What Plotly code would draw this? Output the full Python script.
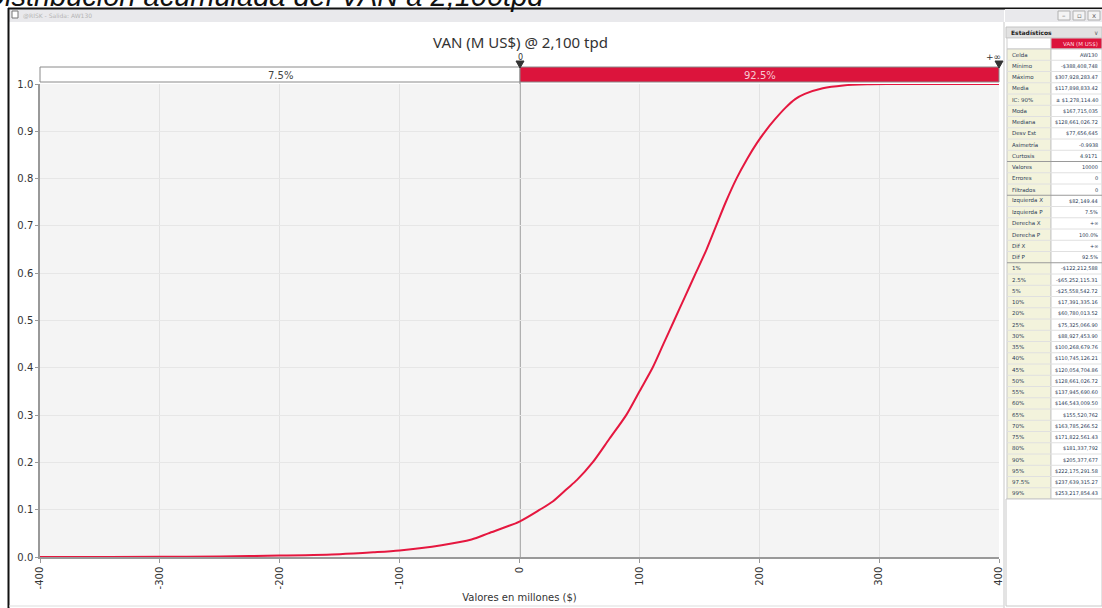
import plotly.graph_objects as go

# ---------------- data ----------------
van_x = [-400, -388, -300, -250, -200, -150, -122, -100, -65, -40, -26, 0, 17, 28,
         40, 48, 61, 75, 89, 100, 111, 120, 129, 138, 147, 156, 164, 172, 181, 190,
         198, 205, 213, 222, 230, 238, 253, 270, 290, 308, 400]
cdf = [0.0, 0.0, 0.0005, 0.001, 0.003, 0.006, 0.010, 0.014, 0.025, 0.037, 0.050, 0.075,
       0.100, 0.118, 0.145, 0.163, 0.200, 0.250, 0.300, 0.350, 0.400, 0.450, 0.500,
       0.550, 0.600, 0.650, 0.700, 0.750, 0.800, 0.842, 0.875, 0.900, 0.925, 0.950,
       0.968, 0.979, 0.991, 0.997, 0.9995, 1.0, 1.0]

x_ticks = [-400, -300, -200, -100, 0, 100, 200, 300, 400]
y_ticks = [0.0, 0.1, 0.2, 0.3, 0.4, 0.5, 0.6, 0.7, 0.8, 0.9, 1.0]

left_label = "7.5%"
right_label = "92.5%"
left_mark = "0"
right_mark = "+\u221e"

stat_labels = ["Celda", "Mínimo", "Máximo", "Media", "IC: 90%", "Moda", "Mediana",
               "Desv Est", "Asimetría", "Curtosis", "Valores", "Errores", "Filtrados",
               "Izquierda X", "Izquierda P", "Derecha X", "Derecha P", "Dif X", "Dif P",
               "1%", "2.5%", "5%", "10%", "20%", "25%", "30%", "35%", "40%", "45%",
               "50%", "55%", "60%", "65%", "70%", "75%", "80%", "90%", "95%", "97.5%", "99%"]
stat_values = ["AW130", "-$388,408,748", "$307,928,283.47", "$117,898,833.42",
               "± $1,278,114.40", "$167,715,035", "$128,661,026.72", "$77,656,645",
               "-0.9938", "4.9171", "10000", "0", "0", "$82,149.44", "7.5%", "+∞",
               "100.0%", "+∞", "92.5%", "-$122,212,588", "-$65,252,115.31",
               "-$25,558,542.72", "$17,391,335.16", "$60,780,013.52", "$75,325,066.90",
               "$88,927,453.90", "$100,268,679.76", "$110,745,126.21", "$120,054,704.86",
               "$128,661,026.72", "$137,945,690.60", "$146,543,009.50", "$155,520,762",
               "$163,785,266.52", "$171,822,561.43", "$181,337,792", "$205,377,677",
               "$222,175,291.58", "$237,639,315.27", "$253,217,854.43"]

# ---------------- layout helpers (page pixel -> paper) ----------------
W, H = 1102, 608
L, R, T, B = 40, 999, 84, 557  # plot area in page pixels


def px(x):
    return (x - L) / (R - L)


def py(y):
    return (B - y) / (B - T)


RED = "#DC143C"
shapes = []
ann = []


def rect(x0, y0, x1, y1, fill, line="rgba(0,0,0,0)", lw=0, layer="above"):
    shapes.append(dict(type="rect", xref="paper", yref="paper", x0=px(x0), x1=px(x1),
                       y0=py(y1), y1=py(y0), fillcolor=fill,
                       line=dict(color=line, width=lw), layer=layer))


def hline(x0, x1, y, color, w=1):
    shapes.append(dict(type="line", xref="paper", yref="paper", x0=px(x0), x1=px(x1),
                       y0=py(y), y1=py(y), line=dict(color=color, width=w), layer="above"))


def vline(x, y0, y1, color, w=1, layer="above"):
    shapes.append(dict(type="line", xref="paper", yref="paper", x0=px(x), x1=px(x),
                       y0=py(y0), y1=py(y1), line=dict(color=color, width=w), layer=layer))


def text(x, y, s, size=10, color="#333", xanchor="center", yanchor="middle",
         family="DejaVu Sans", **kw):
    ann.append(dict(xref="paper", yref="paper", x=px(x), y=py(y), text=s,
                    showarrow=False, xanchor=xanchor, yanchor=yanchor,
                    font=dict(size=size, color=color, family=family), **kw))


# ---------------- figure ----------------
fig = go.Figure()
fig.add_trace(go.Scatter(x=van_x, y=cdf, mode="lines",
                         line=dict(color="#E5173F", width=2, shape="spline", smoothing=0.8),
                         cliponaxis=False, hoverinfo="x+y", showlegend=False))

# partially cut document caption at top
text(546, 14, "<i>Distribución acumulada del VAN a 2,100tpd</i>", size=29,
     color="#111", xanchor="right", yanchor="bottom", family="Liberation Sans")

# window frame
rect(9, 9, 1004, 22, "#e9e9ec")
hline(8, 1102, 8.5, "#111", 2)
vline(8.5, 8, 608, "#111", 2)
rect(12, 11, 18, 18, "#ffffff", "#777", 1)
text(21, 15.5, "@RISK - Salida: AW130", size=6, color="#b5b5b5", xanchor="left")
vline(1004, 22, 608, "#c8c8c8", 1)
hline(9, 1004, 606, "#dddddd", 1)

# chart title
text(520, 42, "VAN (M US$) @ 2,100 tpd", size=15, color="#333", family="Noto Sans")

# probability band
rect(40, 67, 520, 82, "#ffffff", "#8a8a8a", 1)
rect(520, 67, 999, 82, RED, "#8a8a8a", 1)
text(280, 75, left_label, size=10, color="#444")
text(760, 75, right_label, size=10, color="#f6c9d3")
text(520, 57, left_mark, size=8, color="#333")
text(993, 57, right_mark, size=9, color="#333")
for mx in (520, 999):
    shapes.append(dict(type="path", xref="paper", yref="paper",
                       path=f"M {px(mx-4)} {py(61)} L {px(mx+4)} {py(61)} L {px(mx)} {py(68)} Z",
                       fillcolor="#333", line=dict(color="#333", width=1), layer="above"))

# zero marker line in the plot
vline(520, 557, 67, "#9a9a9a", 1.5, layer="below")

# ---------------- statistics panel ----------------
rect(1005, 9, 1102, 22, "#e9e9ec")
for i, s in enumerate(["\u2013", "\u25ab", "x"]):
    bx = 1058 + i * 15
    rect(bx, 11, bx + 12, 20, "#f4f4f4", "#b0b0b0", 1)
    text(bx + 6, 15.5, s, size=7, color="#666")
rect(1006, 27, 1102, 38, "#e2e2e2", "#c4c4c4", 1)
text(1009, 32.5, "<b>Estadísticos</b>", size=6, color="#222", xanchor="left")
text(1096, 32.5, "\u2228", size=6, color="#666")
rect(1007, 38, 1051, 49, "#ffffff", "#cfcfcf", 1)
rect(1051, 38, 1102, 49, RED, "#cfcfcf", 1)
text(1100, 43.5, "VAN (M US$)", size=5.5, color="#ffd6df", xanchor="right")

row_h = 11.25
y0 = 49
n = len(stat_labels)
rect(1007, y0, 1051, y0 + n * row_h, "#f3f3dc", "#c8c8c8", 1)
rect(1051, y0, 1102, y0 + n * row_h, "#ffffff", "#c8c8c8", 1)
rect(1006, y0 + n * row_h, 1102, 606, "#ffffff", "#c8c8c8", 1)
for i, (lab, val) in enumerate(zip(stat_labels, stat_values)):
    yc = y0 + (i + 0.5) * row_h
    if i > 0:
        sep = i in (10, 13, 19)
        hline(1007, 1102, y0 + i * row_h, "#9a9a9a" if sep else "#e0e0e0", 1)
    text(1010, yc, lab, size=5.5, color="#2b3a55", xanchor="left")
    text(1100, yc, val, size=5, color="#2b3a55", xanchor="right")

fig.update_layout(
    width=W, height=H, autosize=False,
    margin=dict(l=L, r=W - R, t=T, b=H - B),
    paper_bgcolor="#ffffff", plot_bgcolor="#f4f4f4",
    shapes=shapes, annotations=ann, showlegend=False,
    xaxis=dict(range=[-400, 400], tickvals=x_ticks, ticktext=[str(v) for v in x_ticks],
               tickangle=-90, showgrid=True, gridcolor="#e2e2e2", gridwidth=1,
               zeroline=False, showline=True, linecolor="#999", linewidth=1.5,
               ticks="outside", ticklen=4, tickcolor="#999", automargin=False,
               tickfont=dict(size=10, color="#333", family="DejaVu Sans"),
               title=dict(text="Valores en millones ($)", standoff=6,
                          font=dict(size=10, color="#333", family="DejaVu Sans"))),
    yaxis=dict(range=[0, 1.0], tickvals=y_ticks, tickformat=".1f",
               showgrid=True, gridcolor="#e6e6e6", gridwidth=1, zeroline=False,
               showline=True, linecolor="#999", linewidth=1.5, automargin=False,
               ticks="outside", ticklen=3, tickcolor="#999",
               tickfont=dict(size=10, color="#333", family="DejaVu Sans")),
)

# remove the default 8px page margin so the figure fills the window exactly
fig.write_html("out.html", config={"displayModeBar": False},
               post_script="document.body.style.margin='0';")
